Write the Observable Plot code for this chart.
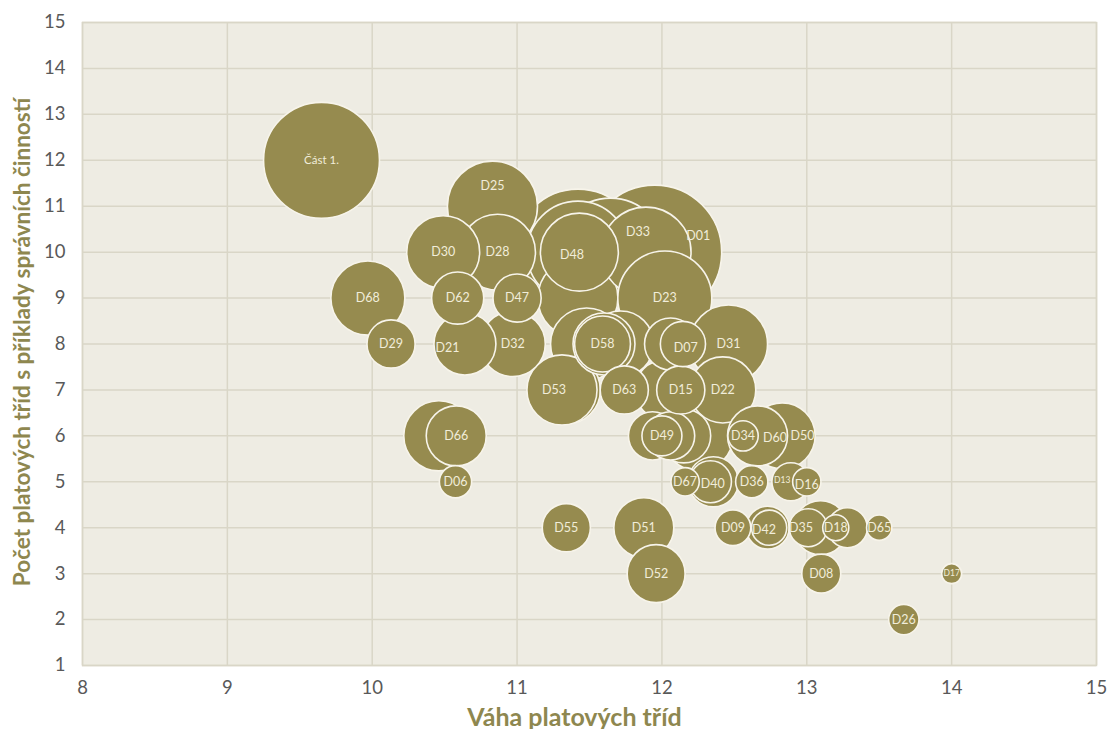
<!DOCTYPE html>
<html>
<head>
<meta charset="utf-8">
<script src="https://cdn.jsdelivr.net/npm/d3@7"></script>
<script src="https://cdn.jsdelivr.net/npm/@observablehq/plot@0.6"></script>
<style>
  html, body { margin: 0; padding: 0; background: #ffffff; }
  #chart { width: 1108px; height: 729px; }
</style>
</head>
<body>
<div id="chart"></div>
<script>
// Series in drawing order (back to front); empty name = unlabeled bubble
const names = ["D01","","Část 1.","","","","D33","D23","D25","D31","D48","D28","D68","D30","","","","","D53","","D22","D32","D21","","D50","D60","D66","D51","","D52","D58","","","","D62","","","","D47","D29","D55","D63","D15","D07","","D40","D49","","D08","D13","D35","D09","D42","D06","D36","D34","D26","D67","D16","D18","D65","D17"];
const xValues = [11.95,11.42,9.65,11.645,11.42,11.42,11.89,12.02,10.83,12.46,11.43,10.865,9.97,10.49,12.25,10.46,11.48,11.34,11.31,11.715,12.42,10.97,10.64,11.6,12.83,12.66,10.58,11.875,12.02,11.96,11.59,12.15,13.095,12.06,10.59,12.355,11.935,12.06,11.0,10.13,11.34,11.74,12.13,12.145,12.73,12.335,12.0,13.28,13.1,12.89,13.01,12.49,12.74,10.575,12.62,12.56,13.67,12.16,13.0,13.2,13.5,14.0];
const yValues = [10,10,12,10,10,9,10,9,11,8,10,10,9,10,6,6,8,7,7,8,7,8,8,8,6,6,6,4,7,3,8,6,4,8,9,5,6,6,9,8,4,7,7,8,4,5,6,4,3,5,4,4,4,5,5,6,2,5,5,4,4,3];
const sizes = [44.9,39.7,33.6,29.2,26.0,16.0,20.3,22.1,20.3,15.2,15.2,14.4,13.7,13.3,12.3,12.3,13.0,11.6,12.3,10.9,10.9,10.6,9.6,9.6,10.9,9.0,9.0,9.0,9.0,8.4,7.8,7.3,7.3,6.8,6.8,6.3,5.8,5.8,5.8,5.8,5.8,5.8,5.8,5.1,4.6,4.4,4.0,4.0,3.8,3.6,3.6,3.2,3.1,2.6,2.6,2.3,2.3,2.0,2.0,1.7,1.6,1.0];
// label offsets (data units) for labels moved off the bubble centre
const labelOffsets = {
  "D01": [0.30, 0.36], "D33": [-0.055, 0.43], "D25": [0, 0.45],
  "D60": [0.12, -0.05], "D50": [0.14, 0], "D35": [-0.05, 0],
  "D13": [-0.06, 0.04], "D16": [0, -0.08], "D48": [-0.05, -0.07],
  "D21": [-0.12, -0.08], "D53": [-0.055, 0], "D07": [0.02, -0.08],
  "D42": [-0.035, -0.05], "D40": [0.015, -0.04]
};
const smallLabels = ["D13", "D17"];
const xTicks = [8, 9, 10, 11, 12, 13, 14, 15];
const yTicks = [1, 2, 3, 4, 5, 6, 7, 8, 9, 10, 11, 12, 13, 14, 15];
const xTitle = "Váha platových tříd";
const yTitle = "Počet platových tříd s příklady správních činností";

const data = names.map((n, i) => ({name: n, x: xValues[i], y: yValues[i], size: sizes[i]}));
const labeled = data.filter(d => d.name !== "").map(d => {
  const o = labelOffsets[d.name] || [0, 0];
  return {...d, lx: d.x + o[0], ly: d.y + o[1]};
});
const normalLabels = labeled.filter(d => !smallLabels.includes(d.name) && d.name !== "Část 1.");
const tinyLabels = labeled.filter(d => smallLabels.includes(d.name));
const partLabels = labeled.filter(d => d.name === "Část 1.");

const gridColor = "#d9d6c7";
const plot = Plot.plot({
  width: 1108,
  height: 729,
  marginLeft: 82,
  marginRight: 12,
  marginTop: 22,
  marginBottom: 64,
  style: {fontFamily: "Lato, 'Open Sans', sans-serif", background: "#ffffff"},
  x: {domain: [8, 15], label: null},
  y: {domain: [1, 15], label: null},
  r: {type: "sqrt", domain: [0, 44.9], range: [0, 67]},
  marks: [
    Plot.frame({fill: "#eeece3", stroke: null}),
    Plot.gridX(xTicks, {stroke: gridColor, strokeOpacity: 1, strokeWidth: 1.5}),
    Plot.gridY(yTicks, {stroke: gridColor, strokeOpacity: 1, strokeWidth: 1.5}),
    Plot.frame({stroke: gridColor, strokeWidth: 1.5}),
    Plot.axisX(xTicks, {tickSize: 0, tickPadding: 15, fontSize: 18.5, fill: "#595959", label: null, tickFormat: d => String(d)}),
    Plot.axisY(yTicks, {tickSize: 0, tickPadding: 17, fontSize: 18.5, fill: "#595959", label: null, tickFormat: d => String(d)}),
    Plot.dot(data, {x: "x", y: "y", r: "size", fill: "#968b4f", fillOpacity: 1, stroke: "#f7f4ea", strokeWidth: 1.6, sort: null}),
    Plot.text(normalLabels, {x: "lx", y: "ly", text: "name", fill: "#f1edda", fontSize: 12.5}),
    Plot.text(tinyLabels, {x: "lx", y: "ly", text: "name", fill: "#f1edda", fontSize: 8.5}),
    Plot.text(partLabels, {x: "lx", y: "ly", text: "name", fill: "#f1edda", fontSize: 11.5}),
    Plot.text([xTitle], {frameAnchor: "bottom", lineAnchor: "middle", textAnchor: "middle", dx: -15, dy: 52, fontSize: 25, fontWeight: "bold", fill: "#8e874f"}),
    Plot.text([yTitle], {frameAnchor: "left", lineAnchor: "middle", textAnchor: "middle", dx: -60, dy: -2, rotate: -90, fontSize: 22.5, fontWeight: "bold", fill: "#8e874f"})
  ]
});
document.getElementById("chart").appendChild(plot);
</script>
</body>
</html>
